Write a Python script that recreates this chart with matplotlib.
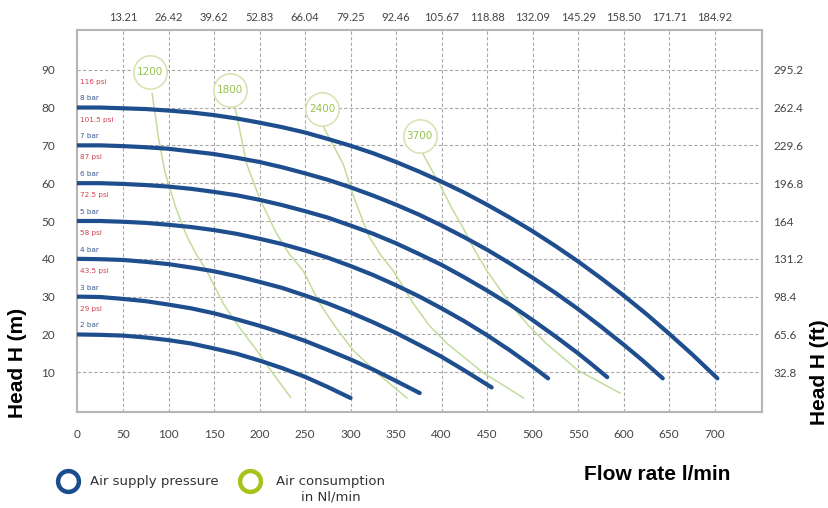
import matplotlib
matplotlib.use('Agg')
import matplotlib.pyplot as plt

# pump curves: head (m) vs flow rate (l/min), one per air supply pressure
flow_2bar = [0, 25, 50, 75, 100, 125, 150, 175, 200, 225, 250, 275, 300]
head_2bar = [20, 19.9, 19.7, 19.2, 18.5, 17.6, 16.3, 14.9, 13.1, 11.1, 8.8, 6.1, 3.2]
flow_3bar = [0, 25, 50, 75, 100, 125, 150, 175, 200, 225, 250, 275, 300, 325, 350, 376]
head_3bar = [30, 29.9, 29.4, 28.8, 27.9, 26.9, 25.6, 24.0, 22.3, 20.4, 18.3, 15.9, 13.4,
             10.7, 7.7, 4.5]
flow_4bar = [0, 25, 50, 75, 100, 125, 150, 175, 200, 225, 250, 275, 300, 325, 350, 375,
             400, 425, 455]
head_4bar = [40, 39.9, 39.7, 39.2, 38.6, 37.7, 36.7, 35.4, 33.9, 32.3, 30.3, 28.2, 25.8,
             23.2, 20.4, 17.3, 14.1, 10.5, 6.0]
flow_5bar = [0, 25, 50, 75, 100, 125, 150, 175, 200, 225, 250, 275, 300, 325, 350, 375,
             400, 425, 450, 475, 500, 517]
head_5bar = [50, 50, 49.8, 49.5, 49.0, 48.4, 47.6, 46.6, 45.3, 43.9, 42.2, 40.3, 38.1,
             35.7, 33.0, 30.1, 26.9, 23.5, 19.8, 15.8, 11.5, 8.4]
flow_6bar = [0, 25, 50, 75, 100, 125, 150, 175, 200, 225, 250, 275, 300, 325, 350, 375,
             400, 425, 450, 475, 500, 525, 550, 565, 582]
head_6bar = [60, 60, 59.8, 59.5, 59.1, 58.5, 57.7, 56.8, 55.6, 54.2, 52.6, 50.9, 48.8,
             46.6, 44.1, 41.3, 38.4, 35.1, 31.6, 27.9, 23.8, 19.5, 15.0, 12.1, 8.7]
flow_7bar = [0, 25, 50, 75, 100, 125, 150, 175, 200, 225, 250, 275, 300, 325, 350, 375,
             400, 425, 450, 475, 500, 525, 550, 575, 600, 620, 643]
head_7bar = [70, 70, 69.8, 69.5, 69.1, 68.4, 67.7, 66.7, 65.6, 64.2, 62.6, 60.9, 58.9,
             56.7, 54.3, 51.7, 48.8, 45.7, 42.4, 38.8, 35.0, 31.0, 26.7, 22.1, 17.3, 13.3, 8.4]
flow_8bar = [0, 25, 50, 75, 100, 125, 150, 175, 200, 225, 250, 275, 300, 325, 350, 375,
             400, 425, 450, 475, 500, 525, 550, 575, 600, 625, 650, 675, 703]
head_8bar = [80, 80, 79.8, 79.6, 79.2, 78.7, 78.0, 77.1, 76.0, 74.8, 73.4, 71.7, 69.9,
             67.9, 65.6, 63.1, 60.4, 57.5, 54.3, 50.9, 47.3, 43.4, 39.3, 34.9, 30.3, 25.4,
             20.2, 14.8, 8.4]

bar_labels = ['2 bar', '3 bar', '4 bar', '5 bar', '6 bar', '7 bar', '8 bar']
psi_labels = ['29 psi', '43.5 psi', '58 psi', '72.5 psi', '87 psi', '101.5 psi', '116 psi']
start_heads = [20, 30, 40, 50, 60, 70, 80]

# air consumption lines (Nl/min)
air_labels = ['1200', '1800', '2400', '3700']
air_label_x = [80, 168, 269, 376]
air_label_y = [89.5, 84.7, 79.5, 72.4]
flow_1200 = [82, 89, 96, 108, 120, 131, 142, 160, 178, 197, 215, 234]
head_1200 = [83.7, 72, 63, 53.5, 46, 41, 36.8, 28.2, 21.8, 15.8, 9.6, 3.4]
flow_1800 = [173, 180, 186, 200, 218, 232, 248, 266, 284, 303, 332, 362]
head_1800 = [80, 72, 65, 56, 47, 41.5, 36.8, 28.2, 21.8, 15.8, 9.2, 3.2]
flow_2400 = [270, 281, 292, 304, 320, 333, 347, 369, 386, 406, 445, 490]
head_2400 = [75, 70, 65, 56, 46, 41, 36.8, 28.2, 22.5, 17.6, 10, 3.2]
flow_3700 = [378, 388, 398, 411, 424, 437, 450, 475, 495, 515, 550, 596]
head_3700 = [68.4, 64, 59.7, 53.5, 48, 42, 36.8, 28.2, 22.5, 17.6, 10.5, 4.5]

x_ticks = [0, 50, 100, 150, 200, 250, 300, 350, 400, 450, 500, 550, 600, 650, 700]
top_ticks = [50, 100, 150, 200, 250, 300, 350, 400, 450, 500, 550, 600, 650, 700]
top_labels = ['13.21', '26.42', '39.62', '52.83', '66.04', '79.25', '92.46', '105.67',
              '118.88', '132.09', '145.29', '158.50', '171.71', '184.92']
y_ticks = [10, 20, 30, 40, 50, 60, 70, 80, 90]
ft_labels = ['32.8', '65.6', '98.4', '131.2', '164', '196.8', '229.6', '262.4', '295.2']

blue = '#1f4e8e'
green_line = '#c3dc9a'
tick_font = 'Lato'

fig = plt.figure(figsize=(8.29, 5.08), dpi=100)
ax = fig.add_axes([77.5 / 829, 96 / 508, 684.5 / 829, 382 / 508])
ax.set_xlim(0, 752)
ax.set_ylim(-0.5, 100.5)

ax.set_xticks(x_ticks)
ax.set_yticks(y_ticks)
ax.grid(True, ls=(0, (3, 2)), color='#a8a8a8', lw=0.8, zorder=0)
ax.tick_params(length=0, labelsize=8.5, labelcolor='#444444', pad=12)
for lab in ax.get_xticklabels() + ax.get_yticklabels():
    lab.set_family(tick_font)
ax.tick_params(axis='y', pad=16)
for sp in ax.spines.values():
    sp.set_color('#b5b5b5')
    sp.set_linewidth(1.5)

flows = [flow_2bar, flow_3bar, flow_4bar, flow_5bar, flow_6bar, flow_7bar, flow_8bar]
heads = [head_2bar, head_3bar, head_4bar, head_5bar, head_6bar, head_7bar, head_8bar]

air_flows = [flow_1200, flow_1800, flow_2400, flow_3700]
air_heads = [head_1200, head_1800, head_2400, head_3700]
for fx, hy in zip(air_flows, air_heads):
    ax.plot(fx, hy, color=green_line, lw=1.1, zorder=2)

for fx, hy in zip(flows, heads):
    ax.plot(fx, hy, color=blue, lw=3.0, solid_capstyle='round', solid_joinstyle='round',
            zorder=4)

for h0, bl, pl in zip(start_heads, bar_labels, psi_labels):
    ax.text(3, h0 + 2.4, bl, color='#3a5a90', fontsize=5.2, va='center', ha='left', zorder=5)
    ax.text(3, h0 + 6.8, pl, color='#d2404f', fontsize=5.2, va='center', ha='left', zorder=5)

for lx, ly, lab in zip(air_label_x, air_label_y, air_labels):
    ax.plot(lx, ly, 'o', ms=24, mfc='white', mec='#dbe2b4', mew=1.2, zorder=3)
    ax.text(lx, ly, lab, color='#94c34e', fontsize=7.5, ha='center', va='center', zorder=3.5)

ax_top = ax.twiny()
ax_top.set_xlim(ax.get_xlim())
ax_top.set_xticks(top_ticks)
ax_top.set_xticklabels(top_labels, family=tick_font)
ax_top.tick_params(length=0, labelsize=8, labelcolor='#444444', pad=5)

ax_r = ax.twinx()
ax_r.set_ylim(ax.get_ylim())
ax_r.set_yticks(y_ticks)
ax_r.set_yticklabels(ft_labels, family=tick_font)
ax_r.tick_params(length=0, labelsize=8.5, labelcolor='#444444', pad=8)
for a in (ax_top, ax_r):
    for sp in a.spines.values():
        sp.set_visible(False)

fig.text(18 / 829, 1 - 363 / 508, 'Head H (m)', rotation=90, ha='center', va='center',
         fontsize=15, fontweight='bold', family='Liberation Sans')
fig.text(820 / 829, 1 - 372 / 508, 'Head H (ft)', rotation=90, ha='center', va='center',
         fontsize=15, fontweight='bold', family='Liberation Sans')
fig.text(657 / 829, 1 - 474 / 508, 'Flow rate l/min', ha='center', va='center',
         fontsize=15, fontweight='bold', family='Liberation Sans')

# legend
leg = fig.add_axes([0, 0, 1, 1])
leg.set_xlim(0, 829)
leg.set_ylim(508, 0)
leg.axis('off')
leg.plot(68, 481, 'o', ms=15, mfc='white', mec='#1b4c8c', mew=3.2)
leg.plot(250, 481, 'o', ms=15, mfc='white', mec='#a9c21a', mew=3.2)
leg.text(90, 481, 'Air supply pressure', fontsize=9.5, color='#333333', va='center', ha='left')
leg.text(331, 481, 'Air consumption', fontsize=9.5, color='#333333', va='center', ha='center')
leg.text(331, 497, 'in Nl/min', fontsize=9.5, color='#333333', va='center', ha='center')

fig.savefig('out.png', dpi=100)
